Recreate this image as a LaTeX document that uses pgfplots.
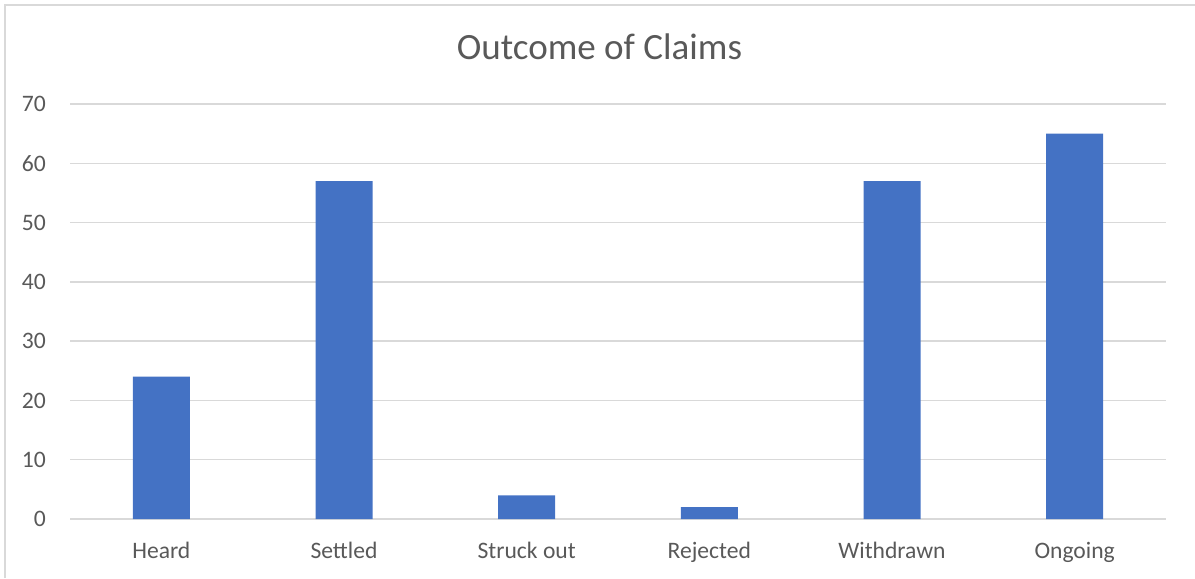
\documentclass[border=0pt]{standalone}
\usepackage{pgfplots}
\pgfplotsset{compat=1.18}
\usepackage{fontspec}
\setmainfont{Carlito}
\definecolor{txt}{HTML}{595959}
\definecolor{barblue}{HTML}{4472C4}
\definecolor{gridc}{HTML}{D9D9D9}
\begin{document}
\begin{tikzpicture}[x=0.75pt,y=0.75pt]
% page frame: 1195 x 578 px
\path[use as bounding box] (0,0) rectangle (1195,578);
% chart area border (left and top edges)
\draw[gridc, line width=1.5pt] (5,0) -- (5,573) -- (1195,573);
% title
\node[anchor=base, text=txt, font=\fontsize{27.8}{32}\selectfont, inner sep=0pt] at (599.5,518) {Outcome of Claims};
\begin{axis}[
  at={(52.5pt,44.25pt)}, anchor=south west,
  scale only axis, width=822pt, height=311.25pt,
  xmin=-0.5, xmax=5.5, ymin=0, ymax=70,
  ytick={0,10,...,70},
  xtick={0,1,2,3,4,5},
  xticklabels={Heard,Settled,Struck out,Rejected,Withdrawn,Ongoing},
  axis line style={draw=none},
  major tick length=0pt,
  ymajorgrids, grid style={gridc, line width=1pt},
  /pgf/number format/assume math mode=true,
  tick label style={text=txt, font=\fontsize{17.7}{21}\selectfont, inner sep=0pt},
  xticklabel style={anchor=north, yshift=-17pt},
  yticklabel style={anchor=east, xshift=-18pt},
  clip=false,
]
\addplot[ybar, bar width=42.75pt, fill=barblue, draw=none] coordinates {
  (0,24) (1,57) (2,4) (3,2) (4,57) (5,65)
};
\end{axis}
\end{tikzpicture}
\end{document}
